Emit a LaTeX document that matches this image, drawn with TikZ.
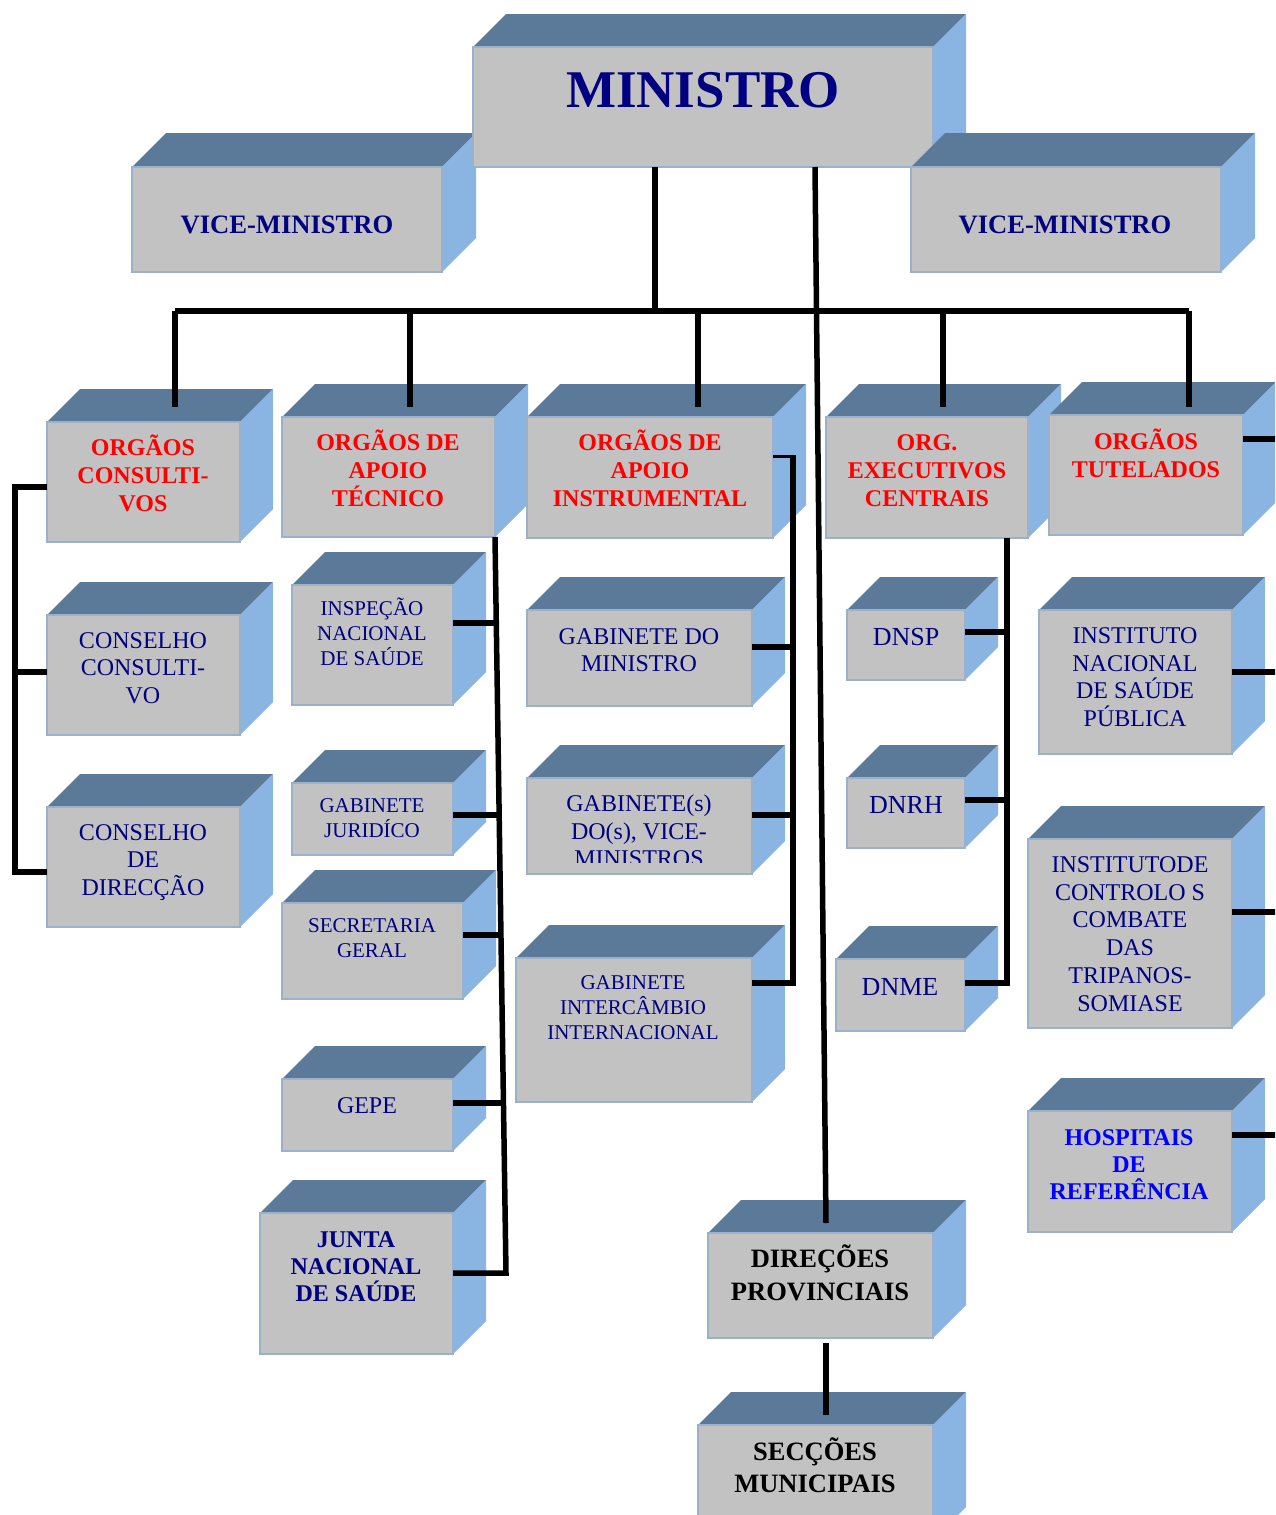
\documentclass[tikz,border=0pt]{standalone}
\usepackage{fontspec}
\setmainfont{Liberation Serif}
\definecolor{frontc}{HTML}{C2C2C2}
\definecolor{topc}{HTML}{5B7A9A}
\definecolor{sidec}{HTML}{8AB4E1}
\definecolor{edgec}{HTML}{9BB0C9}
\definecolor{navyc}{HTML}{000080}
\definecolor{redc}{HTML}{FF0000}
\definecolor{bluec}{HTML}{0000FF}
\tikzset{
  front/.style={fill=frontc, draw=edgec, line width=1.6pt, inner sep=0pt, outer sep=0pt},
  topf/.style={fill=topc},
  sidef/.style={fill=sidec},
  conn/.style={line width=5.5pt, draw=black},
  thinconn/.style={line width=3pt, draw=black},
  lbl/.style={align=center, inner sep=0pt, text=navyc, font=\fontsize{24}{27.5}\selectfont},
  lbls/.style={align=center, inner sep=0pt, text=navyc, font=\fontsize{21}{25}\selectfont},
  lbldn/.style={align=center, inner sep=0pt, text=navyc, font=\fontsize{26}{30}\selectfont},
  lblred/.style={align=center, inner sep=0pt, text=redc, font=\fontsize{24}{28}\selectfont\bfseries},
  lblbold/.style={align=center, inner sep=0pt, text=navyc, font=\fontsize{24}{27}\selectfont\bfseries},
  lblblk/.style={align=center, inner sep=0pt, text=black, font=\fontsize{26.5}{32.5}\selectfont\bfseries},
}
% name, x1, y1, x2, y2, depth
\newcommand\cubebox[6]{%
  \fill[topf] (#2,#3) -- (#2+#6,#3-#6) -- (#4+#6,#3-#6) -- (#4,#3) -- cycle;
  \fill[sidef] (#4,#3) -- (#4+#6,#3-#6) -- (#4+#6,#5-#6) -- (#4,#5) -- cycle;
  \node[front, minimum width={(#4-#2)*1pt}, minimum height={(#5-#3)*1pt}] (#1) at ({(#2+#4)/2},{(#3+#5)/2}) {};
}
\begin{document}
\begin{tikzpicture}[x=1pt,y=-1pt]
\useasboundingbox (0,0) rectangle (1275,1515);
\clip (0,0) rectangle (1275,1515);

% ---- top level
\cubebox{vml}{132}{167}{442}{272}{34}
\cubebox{min}{473}{47}{933}{167}{33}
\cubebox{vmr}{911}{167}{1221}{272}{34}
\node[lblbold, font=\fontsize{53}{60}\selectfont\bfseries] (t-min) at (703,90) {MINISTRO};
\node[lblbold, font=\fontsize{26.6}{30}\selectfont\bfseries] (t-vml) at (287,225) {VICE-MINISTRO};
\node[lblbold, font=\fontsize{26.6}{30}\selectfont\bfseries] (t-vmr) at (1065,225) {VICE-MINISTRO};

% ---- level 2
\cubebox{oc}{47}{422}{240}{542}{33}
\cubebox{oat}{282}{417}{495}{537}{33}
\cubebox{oai}{527}{417}{773}{538}{33}
\cubebox{oec}{826}{417}{1028}{538}{33}
\cubebox{ot}{1049}{415}{1243}{535}{33}
\node[lblred] (t-oc) at (143,473) {ORGÃOS\\CONSULTI-\\VOS};
\node[lblred] (t-oat) at (388,468) {ORGÃOS DE\\APOIO\\TÉCNICO};
\node[lblred] (t-oai) at (650,468) {ORGÃOS DE\\APOIO\\INSTRUMENTAL};
\node[lblred] (t-oec) at (927,471) {ORG.\\EXECUTIVOS\\CENTRAIS};
\node[lblred] (t-ot) at (1146,453) {ORGÃOS\\TUTELADOS};

% ---- column 1
\cubebox{cc}{47}{615}{240}{735}{33}
\cubebox{cd}{47}{807}{240}{927}{33}
\node[lbl] (t-cc) at (143,668) {CONSELHO\\CONSULTI-\\VO};
\node[lbl] (t-cd) at (143,862.5) {CONSELHO\\DE\\DIRECÇÃO};

% ---- column 2
\cubebox{ins}{292}{585}{453}{705}{33}
\cubebox{gj}{292}{783}{453}{855}{33}
\cubebox{sg}{282}{903}{463}{999}{33}
\cubebox{gepe}{282}{1079}{453}{1151}{33}
\cubebox{jns}{260}{1213}{453}{1354}{33}
\node[lbls] (t-ins) at (372,632) {INSPEÇÃO\\NACIONAL\\DE SAÚDE};
\node[lbls] (t-gj) at (372,818) {GABINETE\\JURIDÍCO};
\node[lbls] (t-sg) at (372,938) {SECRETARIA\\GERAL};
\node[lbl] (t-gepe) at (367,1105.5) {GEPE};
\node[lblbold] (t-jns) at (356,1267) {JUNTA\\NACIONAL\\DE SAÚDE};

% ---- column 3
\cubebox{gm}{527}{610}{752}{706}{33}
\cubebox{gv}{527}{778}{752}{874}{33}
\cubebox{gii}{516}{958}{752}{1102}{33}
\node[lbl] (t-gm) at (639,650) {GABINETE DO\\MINISTRO};
\begin{scope}
\clip (527,778) rectangle (752,862);
\node[lbl] (t-gv) at (639,831) {GABINETE(s)\\DO(s), VICE-\\MINISTROS};
\end{scope}
\node[lbls] (t-gii) at (633,1007.5) {GABINETE\\INTERCÂMBIO\\INTERNACIONAL};

% ---- column 4
\cubebox{dnsp}{847}{610}{965}{680}{33}
\cubebox{dnrh}{847}{778}{965}{848}{33}
\cubebox{dnme}{836}{959}{965}{1031}{33}
\node[lbldn] (t-dnsp) at (906,637) {DNSP};
\node[lbldn] (t-dnrh) at (906,805) {DNRH};
\node[lbldn] (t-dnme) at (900,987) {DNME};

% ---- column 5
\cubebox{insp}{1039}{610}{1232}{754}{33}
\cubebox{icc}{1028}{839}{1232}{1028}{33}
\cubebox{hr}{1028}{1111}{1232}{1232}{33}
\node[lbl] (t-insp) at (1135,677) {INSTITUTO\\NACIONAL\\DE SAÚDE\\PÚBLICA};
\node[lbl, font=\fontsize{24}{27.8}\selectfont] (t-icc) at (1130,934) {INSTITUTODE\\CONTROLO S\\COMBATE\\DAS\\TRIPANOS-\\SOMIASE};
\node[lblbold, text=bluec] (t-hr) at (1129,1164.5) {HOSPITAIS\\DE\\REFERÊNCIA};

% ---- provincial
\cubebox{dp}{708}{1233}{933}{1338}{33}
\cubebox{sm}{698}{1425}{933}{1540}{33}
\node[lblblk] (t-dp) at (820,1273) {DIREÇÕES\\PROVINCIAIS};
\node[lblblk] (t-sm) at (815,1465) {SECÇÕES\\MUNICIPAIS};

% ================= connectors
\coordinate (bus-w) at (175,311);
\coordinate (bus-e) at (1189,311);
\coordinate (bus-m) at (655,311);
\coordinate (prov-top) at (815,167);
\coordinate (prov-end) at (826,1223);
\draw[conn] (min.south -| bus-m) -- (bus-m);
\draw[conn] (bus-w) -- (bus-e);
\draw[conn] (bus-w) -- ([yshift=15pt]oc.north -| bus-w);
\draw[conn] (410,311) -- ([yshift=10pt]oat.north -| 410,0);
\draw[conn] (698,311) -- ([yshift=10pt]oai.north -| 698,0);
\draw[conn] (943,311) -- ([yshift=10pt]oec.north -| 943,0);
\draw[conn] (bus-e) -- ([yshift=8pt]ot.north -| bus-e);
\draw[conn] (prov-top) -- (prov-end);
\draw[conn] (826,1343) -- (826,1415);

% column 1 bracket
\draw[conn, line join=miter] (oc.west |- 0,487) -- (15,487) -- (15,872) -- (cd.west |- 0,872);
\draw[conn] (15,672) -- (cc.west |- 0,672);

% column 2
\draw[conn] (oat.south east) -- (506,1273) -- (jns.east |- 0,1273);
\draw[conn] (ins.east |- 0,623) -- (497.5,623);
\draw[conn] (gj.east |- 0,815) -- (500,815);
\draw[conn] (sg.east |- 0,935) -- (501,935);
\draw[conn] (gepe.east |- 0,1103) -- (503.5,1103);

% column 3
\draw[thinconn] (oai.east |- 0,456) -- (793,456);
\draw[conn, line join=miter] (793,455) -- (793,983) -- (gii.east |- 0,983);
\draw[conn] (gm.east |- 0,647) -- (793,647);
\draw[conn] (gv.east |- 0,815) -- (793,815);

% column 4
\draw[conn, line join=miter] (1007,538) -- (1007,983) -- (dnme.east |- 0,983);
\draw[conn] (dnsp.east |- 0,632) -- (1007,632);
\draw[conn] (dnrh.east |- 0,800) -- (1007,800);

% column 5 stubs (to off-picture trunk)
\draw[conn] (ot.east |- 0,439) -- (1280,439);
\draw[conn] (insp.east |- 0,672) -- (1280,672);
\draw[conn] (icc.east |- 0,912) -- (1280,912);
\draw[conn] (hr.east |- 0,1135) -- (1280,1135);
\end{tikzpicture}
\end{document}
